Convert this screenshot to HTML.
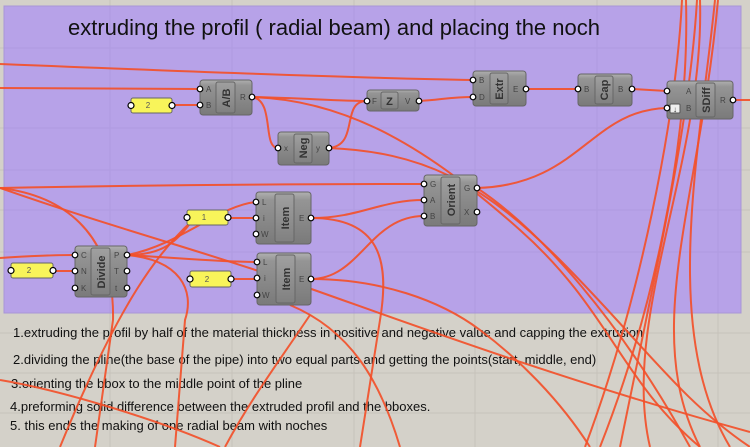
<!DOCTYPE html>
<html><head><meta charset="utf-8"><style>
html,body{margin:0;padding:0;background:#d4d1c9;}
svg{display:block;font-family:"Liberation Sans",sans-serif;}
.pl{font-size:8px;fill:#444;}
.lb{font-size:11px;font-weight:bold;fill:#333;}
.w{fill:none;stroke:#f2502a;stroke-width:2;stroke-opacity:.92;}
.p{fill:#fff;stroke:#000;stroke-width:1.2;}
.nt{font-size:8px;fill:#555;text-anchor:middle;}
.tx{font-size:13px;fill:#111;}
</style></head><body>
<svg width="750" height="447" viewBox="0 0 750 447">
<defs>
<linearGradient id="g" x1="0" y1="0" x2="0" y2="1"><stop offset="0" stop-color="#b0b0b0"/><stop offset=".15" stop-color="#959595"/><stop offset="1" stop-color="#7a7a7a"/></linearGradient>
<linearGradient id="gi" x1="0" y1="0" x2="0" y2="1"><stop offset="0" stop-color="#a0a0a0"/><stop offset="1" stop-color="#808080"/></linearGradient>
</defs>
<rect width="750" height="447" fill="#d4d1c9"/>
<g stroke="#c6c3bb" stroke-width="1">
<line x1="110" y1="0" x2="110" y2="447"/><line x1="232" y1="0" x2="232" y2="447"/><line x1="354" y1="0" x2="354" y2="447"/><line x1="475" y1="0" x2="475" y2="447"/><line x1="597" y1="0" x2="597" y2="447"/><line x1="718" y1="0" x2="718" y2="447"/>
<line x1="0" y1="48" x2="750" y2="48"/><line x1="0" y1="128" x2="750" y2="128"/><line x1="0" y1="170" x2="750" y2="170"/><line x1="0" y1="210" x2="750" y2="210"/><line x1="0" y1="252" x2="750" y2="252"/><line x1="0" y1="333" x2="750" y2="333"/><line x1="0" y1="373" x2="750" y2="373"/><line x1="0" y1="413" x2="750" y2="413"/>
</g>
<rect x="4" y="6" width="737" height="307" fill="#b7a2e8" stroke="#a896d6"/>
<g stroke="#ab97db" stroke-width="1" opacity=".6">
<line x1="110" y1="6" x2="110" y2="313"/><line x1="232" y1="6" x2="232" y2="313"/><line x1="354" y1="6" x2="354" y2="313"/><line x1="475" y1="6" x2="475" y2="313"/><line x1="597" y1="6" x2="597" y2="313"/><line x1="718" y1="6" x2="718" y2="313"/>
<line x1="4" y1="48" x2="741" y2="48"/><line x1="4" y1="128" x2="741" y2="128"/><line x1="4" y1="170" x2="741" y2="170"/><line x1="4" y1="210" x2="741" y2="210"/><line x1="4" y1="252" x2="741" y2="252"/>
</g>
<text x="68" y="35" font-size="22" fill="#111">extruding the profil ( radial beam) and placing the noch</text>

<g class="tx">
<text x="13" y="337">1.extruding the profil by half of the material thickness in positive and negative value and capping the extrusion</text>
<text x="13" y="364">2.dividing the pline(the base of the pipe) into two equal parts and getting the points(start, middle, end)</text>
<text x="11" y="388">3.orienting the bbox to the middle point of the pline</text>
<text x="10" y="411">4.preforming solid difference between the extruded profil and the bboxes.</text>
<text x="10" y="430">5. this ends the making of one radial beam with noches</text>
</g>

<path class="w" d="M0 64 C150 70 350 78 473 80"/>
<path class="w" d="M0 88 L200 89"/>
<path class="w" d="M172 105 L200 105"/>
<path class="w" d="M252 97 C300 98 340 101 367 101"/>
<path class="w" d="M252 97 C275 100 262 148 278 148"/>
<path class="w" d="M252 97 C350 100 430 150 520 230 S620 380 700 447"/>
<path class="w" d="M329 148 C360 145 340 101 367 101"/>
<path class="w" d="M329 148 C420 152 480 180 560 260 S680 400 750 447"/>
<path class="w" d="M419 101 C440 100 450 97 473 97"/>
<path class="w" d="M526 89 L578 89"/>
<path class="w" d="M632 89 L667 91"/>
<path class="w" d="M733 100 L750 100"/>
<path class="w" d="M477 188 C580 185 590 110 667 108"/>
<path class="w" d="M0 188 C150 185 300 184 424 184"/>
<path class="w" d="M0 188 C60 195 115 230 113 320 L95 447"/>
<path class="w" d="M0 188 C120 230 200 250 300 285 S560 380 750 432"/>
<path class="w" d="M0 258 C30 256 60 255 75 255"/>
<path class="w" d="M53 271 L75 271"/>
<path class="w" d="M127 255 C170 255 180 235 193 220"/>
<path class="w" d="M193 220 C160 250 120 300 60 447"/>
<path class="w" d="M127 255 C180 245 220 205 256 202"/>
<path class="w" d="M127 255 C180 258 220 262 257 262"/>
<path class="w" d="M127 255 C180 260 195 290 185 320 L175 447"/>
<path class="w" d="M228 218 L256 218"/>
<path class="w" d="M231 279 L257 279"/>
<path class="w" d="M311 218 C360 218 380 200 424 200"/>
<path class="w" d="M311 218 C380 218 390 260 380 320 L360 447"/>
<path class="w" d="M311 279 C360 279 370 216 424 216"/>
<path class="w" d="M311 279 C380 279 440 300 480 330 S560 400 590 447"/>
<path class="w" d="M290 305 C350 330 380 380 400 447"/>
<path class="w" d="M0 380 C60 390 160 420 220 447"/>
<path class="w" d="M310 315 C280 360 250 400 225 447"/>
<path class="w" d="M682 0 C676 120 640 300 585 447"/>
<path class="w" d="M686 0 C690 150 650 320 600 447"/>
<path class="w" d="M697 0 C690 120 660 250 620 447"/>
<path class="w" d="M700 0 C705 160 620 320 650 447"/>
<path class="w" d="M718 0 C700 200 640 330 700 447"/>
<path class="w" d="M715 0 C700 150 660 330 730 447"/>
<path class="w" d="M477 188 C540 230 620 320 690 447"/>

<g>
<rect x="131" y="98" width="41" height="15" rx="2" fill="#f8f45a" stroke="#666"/><text class="nt" x="148" y="108">2</text>
<circle class="p" cx="131" cy="105.5" r="3"/><circle class="p" cx="172" cy="105.5" r="3"/>
<rect x="187" y="210" width="41" height="15" rx="2" fill="#f8f45a" stroke="#666"/><text class="nt" x="204" y="220">1</text>
<circle class="p" cx="187" cy="217.5" r="3"/><circle class="p" cx="228" cy="217.5" r="3"/>
<rect x="190" y="271" width="41" height="16" rx="2" fill="#f8f45a" stroke="#666"/><text class="nt" x="207" y="282">2</text>
<circle class="p" cx="190" cy="279" r="3"/><circle class="p" cx="231" cy="279" r="3"/>
<rect x="11" y="263" width="42" height="15" rx="2" fill="#f8f45a" stroke="#666"/><text class="nt" x="29" y="273">2</text>
<circle class="p" cx="11" cy="270.5" r="3"/><circle class="p" cx="53" cy="270.5" r="3"/>
</g>

<g>
<rect x="200" y="80" width="52" height="35" rx="3" fill="url(#g)" stroke="#666"/>
<rect x="216" y="82" width="19" height="31" rx="2" fill="url(#gi)" stroke="#666"/>
<text class="lb" transform="translate(230,98) rotate(-90)" text-anchor="middle">A/B</text>
<text class="pl" x="206" y="92">A</text><text class="pl" x="206" y="108">B</text><text class="pl" x="240" y="100">R</text>
<circle class="p" cx="200" cy="89" r="2.8"/><circle class="p" cx="200" cy="105" r="2.8"/><circle class="p" cx="252" cy="97" r="2.8"/>
</g>
<g>
<rect x="367" y="90" width="52" height="21" rx="3" fill="url(#g)" stroke="#666"/>
<rect x="381" y="92" width="17" height="17" rx="2" fill="url(#gi)" stroke="#666"/>
<text class="lb" x="389.5" y="105" text-anchor="middle">Z</text>
<text class="pl" x="372" y="104">F</text><text class="pl" x="405" y="104">V</text>
<circle class="p" cx="367" cy="101" r="2.8"/><circle class="p" cx="419" cy="101" r="2.8"/>
</g>
<g>
<rect x="473" y="71" width="53" height="35" rx="3" fill="url(#g)" stroke="#666"/>
<rect x="490" y="73" width="18" height="31" rx="2" fill="url(#gi)" stroke="#666"/>
<text class="lb" transform="translate(503,89) rotate(-90)" text-anchor="middle">Extr</text>
<text class="pl" x="479" y="83">B</text><text class="pl" x="479" y="100">D</text><text class="pl" x="513" y="92">E</text>
<circle class="p" cx="473" cy="80" r="2.8"/><circle class="p" cx="473" cy="97" r="2.8"/><circle class="p" cx="526" cy="89" r="2.8"/>
</g>
<g>
<rect x="578" y="74" width="54" height="32" rx="3" fill="url(#g)" stroke="#666"/>
<rect x="595" y="76" width="18" height="28" rx="2" fill="url(#gi)" stroke="#666"/>
<text class="lb" transform="translate(608,90) rotate(-90)" text-anchor="middle">Cap</text>
<text class="pl" x="584" y="92">B</text><text class="pl" x="618" y="92">B</text>
<circle class="p" cx="578" cy="89" r="2.8"/><circle class="p" cx="632" cy="89" r="2.8"/>
</g>
<g>
<rect x="667" y="81" width="66" height="38" rx="3" fill="url(#g)" stroke="#666"/>
<rect x="696" y="83" width="19" height="34" rx="2" fill="url(#gi)" stroke="#666"/>
<text class="lb" transform="translate(710,100) rotate(-90)" text-anchor="middle">SDiff</text>
<rect x="670" y="104" width="10" height="9" rx="1" fill="#eee" stroke="#555"/>
<text x="675" y="112" font-size="8" text-anchor="middle" fill="#333">↓</text>
<text class="pl" x="686" y="94">A</text><text class="pl" x="686" y="111">B</text><text class="pl" x="720" y="103">R</text>
<circle class="p" cx="667" cy="91" r="2.8"/><circle class="p" cx="667" cy="108" r="2.8"/><circle class="p" cx="733" cy="100" r="2.8"/>
</g>
<g>
<rect x="278" y="132" width="51" height="33" rx="3" fill="url(#g)" stroke="#666"/>
<rect x="294" y="134" width="18" height="29" rx="2" fill="url(#gi)" stroke="#666"/>
<text class="lb" transform="translate(307,148) rotate(-90)" text-anchor="middle">Neg</text>
<text class="pl" x="284" y="151">x</text><text class="pl" x="316" y="151">y</text>
<circle class="p" cx="278" cy="148" r="2.8"/><circle class="p" cx="329" cy="148" r="2.8"/>
</g>
<g>
<rect x="424" y="175" width="53" height="51" rx="3" fill="url(#g)" stroke="#666"/>
<rect x="441" y="177" width="19" height="47" rx="2" fill="url(#gi)" stroke="#666"/>
<text class="lb" transform="translate(455,200) rotate(-90)" text-anchor="middle">Orient</text>
<text class="pl" x="430" y="187">G</text><text class="pl" x="430" y="203">A</text><text class="pl" x="430" y="219">B</text>
<text class="pl" x="464" y="191">G</text><text class="pl" x="464" y="215">X</text>
<circle class="p" cx="424" cy="184" r="2.8"/><circle class="p" cx="424" cy="200" r="2.8"/><circle class="p" cx="424" cy="216" r="2.8"/>
<circle class="p" cx="477" cy="188" r="2.8"/><circle class="p" cx="477" cy="212" r="2.8"/>
</g>
<g>
<rect x="256" y="192" width="55" height="52" rx="3" fill="url(#g)" stroke="#666"/>
<rect x="275" y="194" width="19" height="48" rx="2" fill="url(#gi)" stroke="#666"/>
<text class="lb" transform="translate(289,218) rotate(-90)" text-anchor="middle">Item</text>
<text class="pl" x="262" y="205">L</text><text class="pl" x="263" y="221">i</text><text class="pl" x="261" y="237">W</text><text class="pl" x="299" y="221">E</text>
<circle class="p" cx="256" cy="202" r="2.8"/><circle class="p" cx="256" cy="218" r="2.8"/><circle class="p" cx="256" cy="234" r="2.8"/><circle class="p" cx="311" cy="218" r="2.8"/>
</g>
<g>
<rect x="257" y="253" width="54" height="52" rx="3" fill="url(#g)" stroke="#666"/>
<rect x="276" y="255" width="19" height="48" rx="2" fill="url(#gi)" stroke="#666"/>
<text class="lb" transform="translate(290,279) rotate(-90)" text-anchor="middle">Item</text>
<text class="pl" x="263" y="265">L</text><text class="pl" x="264" y="281">i</text><text class="pl" x="262" y="298">W</text><text class="pl" x="299" y="282">E</text>
<circle class="p" cx="257" cy="262" r="2.8"/><circle class="p" cx="257" cy="278" r="2.8"/><circle class="p" cx="257" cy="295" r="2.8"/><circle class="p" cx="311" cy="279" r="2.8"/>
</g>
<g>
<rect x="75" y="246" width="52" height="51" rx="3" fill="url(#g)" stroke="#666"/>
<rect x="91" y="248" width="19" height="47" rx="2" fill="url(#gi)" stroke="#666"/>
<text class="lb" transform="translate(105,272) rotate(-90)" text-anchor="middle">Divide</text>
<text class="pl" x="81" y="258">C</text><text class="pl" x="81" y="274">N</text><text class="pl" x="81" y="291">K</text>
<text class="pl" x="114" y="258">P</text><text class="pl" x="114" y="274">T</text><text class="pl" x="115" y="291">t</text>
<circle class="p" cx="75" cy="255" r="2.8"/><circle class="p" cx="75" cy="271" r="2.8"/><circle class="p" cx="75" cy="288" r="2.8"/>
<circle class="p" cx="127" cy="255" r="2.8"/><circle class="p" cx="127" cy="271" r="2.8"/><circle class="p" cx="127" cy="288" r="2.8"/>
</g>
</svg>
</body></html>
